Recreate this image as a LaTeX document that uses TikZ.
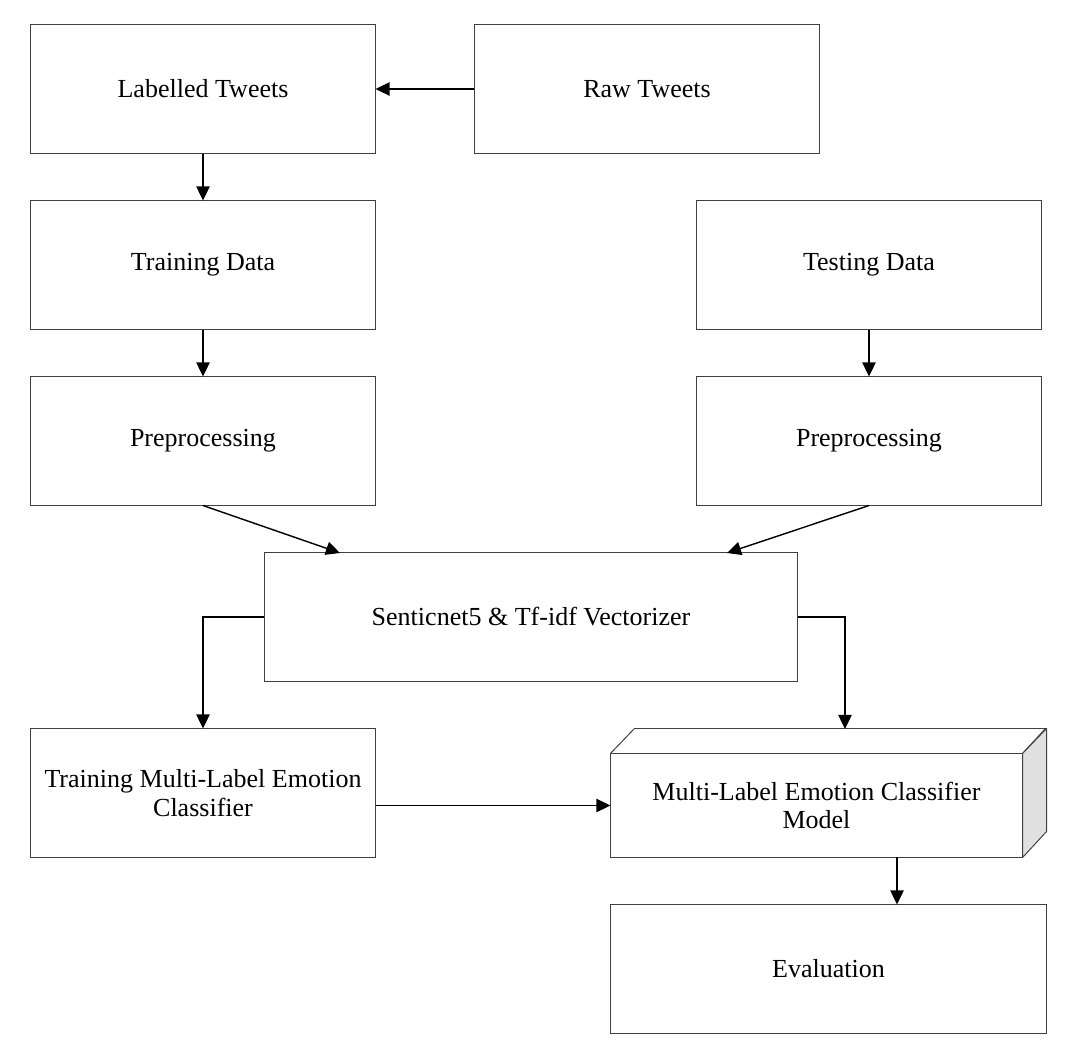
\documentclass[tikz,border=0pt]{standalone}
\usepackage{fontspec}
\setmainfont{Liberation Serif}
\usetikzlibrary{arrows.meta, positioning, calc}
\definecolor{boxGray}{HTML}{404040}
\definecolor{sideGray}{HTML}{E0E0E0}

\begin{document}
\begin{tikzpicture}[
  x=0.025cm, y=-0.025cm,
  >={Triangle[length=10pt, width=9.5pt]},
  font=\fontsize{18.5}{20.5}\selectfont,
  flow/.style={->, line width=1pt, draw=black},
  stagebox/.style={draw=boxGray, line width=0.7pt, fill=white, align=center,
    minimum width=8.6cm, minimum height=3.2cm, inner sep=0pt}
]

  \useasboundingbox (0,0) rectangle (1074,1064);

  % top row
  \node[stagebox] (labelled) at (203,89) {Labelled Tweets};
  \node[stagebox] (raw) at (647,89) {Raw Tweets};

  % training / testing branches
  \node[stagebox] (trainData) at (203,265) {Training Data};
  \node[stagebox] (testData) at (869,265) {Testing Data};
  \node[stagebox] (trainPre) at (203,441) {Preprocessing};
  \node[stagebox] (testPre) at (869,441) {Preprocessing};

  \node[stagebox, minimum width=13.3cm] (vectorizer) at (531,617)
    {Senticnet5 \& Tf-idf Vectorizer};

  \node[stagebox] (trainClf) at (203,793)
    {Training Multi-Label Emotion\\Classifier};

  % classifier model drawn as a block
  \node[stagebox, minimum width=10.275cm, minimum height=2.575cm] (model) at (816.5,805.5)
    {Multi-Label Emotion Classifier\\Model};
  \draw[draw=boxGray, line width=0.7pt, fill=white, line join=round]
    (model.north west) -- ++(24,-25) -- ++(411,0) -- (model.north east) -- cycle;
  \draw[draw=boxGray, line width=0.7pt, fill=sideGray, line join=round]
    (model.north east) -- ++(24,-25) -- ++(0,103) -- (model.south east) -- cycle;

  \node[stagebox, minimum width=10.875cm] (evaluation) at (828.5,969) {Evaluation};

  \coordinate (vecInLeft) at (340,553);
  \coordinate (vecInRight) at (727,553);
  \coordinate (modelTop) at (845,729);
  \coordinate (modelOut) at (897,857);

  \draw[flow] (raw.west) -- (labelled.east);
  \draw[flow] (labelled.south) -- (trainData.north);
  \draw[flow] (trainData.south) -- (trainPre.north);
  \draw[flow] (testData.south) -- (testPre.north);
  \draw[flow] (trainPre.south) -- (vecInLeft);
  \draw[flow] (testPre.south) -- (vecInRight);
  \draw[flow] (vectorizer.west) -| (trainClf.north);
  \draw[flow] (vectorizer.east) -| (modelTop);
  \draw[flow] (trainClf.east |- model.west) -- (model.west);
  \draw[flow] (modelOut) -- (modelOut |- evaluation.north);

\end{tikzpicture}
\end{document}
